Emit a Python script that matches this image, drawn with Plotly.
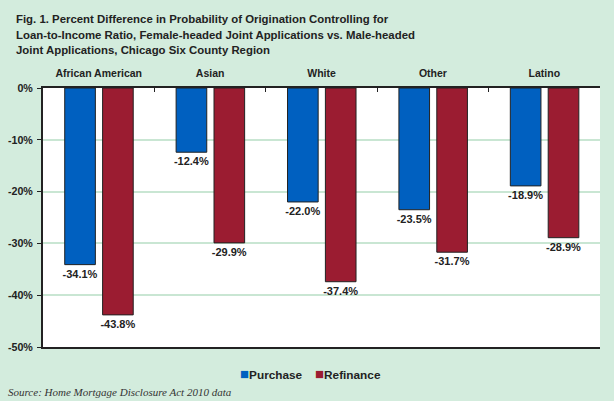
import plotly.graph_objects as go

categories = ["African American", "Asian", "White", "Other", "Latino"]
purchase = [-34.1, -12.4, -22.0, -23.5, -18.9]
refinance = [-43.8, -29.9, -37.4, -31.7, -28.9]
y_ticks = [0, -10, -20, -30, -40, -50]
y_tick_labels = ["0%", "-10%", "-20%", "-30%", "-40%", "-50%"]
title_lines = [
    "Fig. 1. Percent Difference in Probability of Origination Controlling for",
    "Loan-to-Income Ratio, Female-headed Joint Applications vs. Male-headed",
    "Joint Applications, Chicago Six County Region",
]
source_text = "Source: Home Mortgage Disclosure Act 2010 data"

bg = "#d3ecdd"
blue = "#0060c0"
red = "#9b1c31"
dark = "#222222"
lbl_font = dict(family="Liberation Sans", size=11, color=dark)

H_PLOT = 259.0  # plot area height in px (for paper-coordinate conversion)


def py(px_from_top):
    """convert pixel y (from top of figure) to paper coords; plot top at 88px"""
    return 1 - (px_from_top - 88) / H_PLOT


fig = go.Figure()
fig.add_trace(go.Bar(
    name="Purchase", x=categories, y=purchase, showlegend=False,
    width=0.275, offset=-0.305,
    marker=dict(color=blue, line=dict(color=dark, width=1)),
    text=[f"<b>{v:.1f}%</b>" for v in purchase], textposition="outside",
    textfont=lbl_font, cliponaxis=False, constraintext="none",
    hoverinfo="skip",
))
fig.add_trace(go.Bar(
    name="Refinance", x=categories, y=refinance, showlegend=False,
    width=0.275, offset=0.035,
    marker=dict(color=red, line=dict(color=dark, width=1)),
    text=[f"<b>{v:.1f}%</b>" for v in refinance], textposition="outside",
    textfont=lbl_font, cliponaxis=False, constraintext="none",
    hoverinfo="skip",
))

annotations = []
for i, line in enumerate(title_lines):
    annotations.append(dict(
        text=f"<b>{line}</b>", xref="paper", yref="paper",
        x=-0.052, xanchor="left", y=py(18.5 + 16 * i), yanchor="middle",
        align="left", showarrow=False,
        font=dict(family="Liberation Sans", size=11.4, color=dark),
    ))
annotations.append(dict(
    text=f"<i>{source_text}</i>", xref="paper", yref="paper",
    x=-0.066, xanchor="left", y=py(392), yanchor="middle", showarrow=False,
    font=dict(family="Liberation Serif", size=11, color="#333333"),
))
# legend (square swatch + label)
for label, col, xpx in [("Purchase", blue, 238), ("Refinance", red, 313)]:
    annotations.append(dict(
        text=f"<span style='font-size:15px;color:{col}'>■</span><b>{label}</b>",
        xref="paper", yref="paper", x=(xpx - 43) / 557.0, xanchor="left",
        y=py(375), yanchor="middle", yshift=2, showarrow=False,
        font=dict(family="Liberation Sans", size=11.8, color=dark),
    ))

fig.update_layout(
    width=614, height=401,
    paper_bgcolor=bg, plot_bgcolor="white",
    margin=dict(l=43, r=14, t=88, b=54, autoexpand=False),
    barmode="group",
    font=dict(family="Liberation Sans", size=11, color=dark),
    showlegend=False,
    xaxis=dict(
        side="top", showline=True, linecolor=dark, linewidth=2, mirror=True,
        ticks="inside", tickson="boundaries", ticklen=4, tickcolor=dark,
        tickfont=dict(family="Liberation Sans", size=10.5, color=dark),
        tickvals=categories, ticktext=[f"<b>{c}</b>" for c in categories],
        showgrid=False, automargin=False, ticklabelstandoff=5,
    ),
    yaxis=dict(
        range=[-50, 0], tickvals=y_ticks, ticktext=[f"<b>{t}</b>" for t in y_tick_labels],
        showline=True, linecolor=dark, linewidth=2,
        ticks="outside", ticklen=4, tickcolor=dark,
        gridcolor="#c9e6d3", gridwidth=1.5, zeroline=False,
        tickfont=dict(family="Liberation Sans", size=10.7, color=dark),
        automargin=False, ticklabelstandoff=2,
    ),
    annotations=annotations,
)

fig.write_html("out.html", config={"displayModeBar": False},
               post_script="document.body.style.margin='0';")
